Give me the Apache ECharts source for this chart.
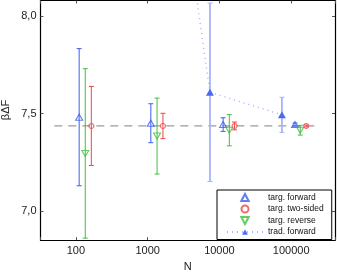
<!DOCTYPE html>
<html><head><meta charset="utf-8">
<script src="https://cdn.jsdelivr.net/npm/echarts@6/dist/echarts.min.js"></script>
<style>html,body{margin:0;padding:0;background:#fff}#c{width:338px;height:277px}</style>
</head><body><div id="c"></div>
<script>
const fwdN = [111, 1107, 11250, 113000];
const fwdVal = [7.481, 7.450, 7.443, 7.443];
const fwdErr = [0.352, 0.100, 0.035, 0.008];
const twoN = [164, 1633, 16270, 161800];
const twoVal = [7.436, 7.436, 7.436, 7.436];
const twoErr = [0.203, 0.065, 0.020, 0.005];
const revN = [135, 1352, 13740, 133700];
const revVal = [7.295, 7.384, 7.414, 7.414];
const revErr = [0.435, 0.195, 0.080, 0.025];
const tradN = [740, 7380, 74300];
const tradVal = [10.2, 7.609, 7.493];
const tradErr = [null, 0.458, 0.090];
const refN = [50, 250000];
const refVal = [7.436, 7.436];
const yTicks = [7.0, 7.5, 8.0];
const names = ['targ. forward', 'targ. two-sided', 'targ. reverse', 'trad. forward'];

const FONT = 'Liberation Sans, Arial, sans-serif';
const cBlue = '#3d5cf5', cRed = '#f04646', cGreen = '#3fbf3f', cTrad = '#4a6af2', cTradLight = '#a6b4fc';
const TRI_UP = 'path://M0,-1L0.95,0.8L-0.95,0.8Z';
const TRI_DOWN = 'path://M0,1L0.95,-0.8L-0.95,-0.8Z';

function pairs(N, V) { return N.map((n, i) => [n, V[i]]); }

function errBars(name, N, V, E, color, width, cap) {
  return {
    type: 'custom', name: name, silent: true, z: 2, clip: true,
    encode: {x: 0, y: 1},
    data: N.map((n, i) => [n, V[i], E[i]]).filter(d => d[2] != null),
    renderItem: function (params, api) {
      const x = api.value(0), m = api.value(1), e = api.value(2);
      const lo = api.coord([x, m - e]), hi = api.coord([x, m + e]);
      const h = cap / 2;
      return {type: 'group', children: [
        {type: 'line', shape: {x1: lo[0], y1: lo[1], x2: hi[0], y2: hi[1]}, style: {stroke: color, lineWidth: width}},
        {type: 'line', shape: {x1: lo[0] - h, y1: lo[1], x2: lo[0] + h, y2: lo[1]}, style: {stroke: color, lineWidth: 1}},
        {type: 'line', shape: {x1: hi[0] - h, y1: hi[1], x2: hi[0] + h, y2: hi[1]}, style: {stroke: color, lineWidth: 1}}
      ]};
    }
  };
}

const tickStyle = {show: true, inside: true, length: 3, lineStyle: {color: '#555', width: 1}};
const lineStyleAx = {show: true, lineStyle: {color: '#000', width: 1.2}};

function xAx(pos, labels) {
  return {
    type: 'log', logBase: 10, min: 32.1, max: 408000, position: pos,
    axisLine: lineStyleAx, axisTick: tickStyle, splitLine: {show: false}, minorTick: {show: false},
    axisLabel: {show: labels, margin: 5, fontSize: 11, fontFamily: FONT, color: '#222',
      formatter: function (v) { const l = Math.log10(v); return Math.abs(l - Math.round(l)) < 1e-6 ? String(Math.round(v)) : ''; }},
    name: labels ? 'N' : '', nameLocation: 'middle', nameGap: 18,
    nameTextStyle: {fontSize: 11, fontFamily: FONT, color: '#222'}
  };
}
function yAx(pos, labels) {
  return {
    type: 'value', min: 6.85, max: 8.08, position: pos,
    axisLine: lineStyleAx,
    axisTick: Object.assign({}, tickStyle, {customValues: yTicks}),
    splitLine: {show: false},
    axisLabel: {show: labels, customValues: yTicks, margin: 4, fontSize: 11, fontFamily: FONT, color: '#222',
      formatter: function (v) { return v.toFixed(1).replace('.', ','); }}
  };
}

const chart = echarts.init(document.getElementById('c'), null, {renderer: 'canvas'});
chart.setOption({
  animation: false,
  backgroundColor: '#fff',
  grid: {left: 40.5, top: 0.5, width: 299, height: 243.5, containLabel: false},
  xAxis: [xAx('bottom', true), xAx('top', false)],
  yAxis: [yAx('left', true), yAx('right', false)],
  legend: {
    orient: 'vertical', left: 217, top: 190, padding: [3, 8, 3, 9], itemGap: 2.5,
    itemWidth: 36, itemHeight: 7, backgroundColor: '#fff', borderColor: '#000', borderWidth: 1,
    selectedMode: false, symbolKeepAspect: true,
    textStyle: {fontSize: 8.5, fontFamily: FONT, color: '#111', lineHeight: 9},
    data: [
      {name: names[0], icon: TRI_UP},
      {name: names[1]},
      {name: names[2], icon: TRI_DOWN, symbolRotate: 0},
      {name: names[3]}
    ]
  },
  graphic: [{type: 'text', x: 6, y: 110, rotation: Math.PI / 2,
    style: {text: 'βΔF', fontSize: 11, fontFamily: FONT, fill: '#222', align: 'center', verticalAlign: 'middle'}}],
  series: [
    {type: 'line', name: 'ref', data: pairs(refN, refVal), symbol: 'none', silent: true, z: 1,
      lineStyle: {color: '#9a9a9a', width: 1.2, type: [8, 6]}},
    errBars('fwdErr', fwdN, fwdVal, fwdErr, cBlue, 1, 5),
    errBars('twoErr', twoN, twoVal, twoErr, cRed, 1, 5),
    errBars('revErr', revN, revVal, revErr, cGreen, 1, 5),
    errBars('tradErr', tradN, tradVal, tradErr, cTradLight, 1.8, 5),
    {type: 'line', name: 'trad. forward', data: pairs(tradN, tradVal), z: 3, clip: true,
      symbol: 'triangle', symbolSize: [8, 7], showAllSymbol: true,
      itemStyle: {color: cTrad}, lineStyle: {color: cTradLight, width: 1.5, type: [1, 4]}},
    {type: 'scatter', name: 'targ. forward', data: pairs(fwdN, fwdVal), z: 4,
      symbol: 'triangle', symbolSize: [7, 6],
      itemStyle: {color: 'rgba(255,255,255,0)', borderColor: cBlue, borderWidth: 1.1}},
    {type: 'scatter', name: 'targ. two-sided', data: pairs(twoN, twoVal), z: 4,
      symbol: 'circle', symbolSize: 5,
      itemStyle: {color: 'rgba(255,255,255,0)', borderColor: cRed, borderWidth: 1.1}},
    {type: 'scatter', name: 'targ. reverse', data: pairs(revN, revVal), z: 4,
      symbol: 'triangle', symbolSize: [7, 6], symbolRotate: 180,
      itemStyle: {color: 'rgba(255,255,255,0)', borderColor: cGreen, borderWidth: 1.1}}
  ]
});
</script></body></html>
